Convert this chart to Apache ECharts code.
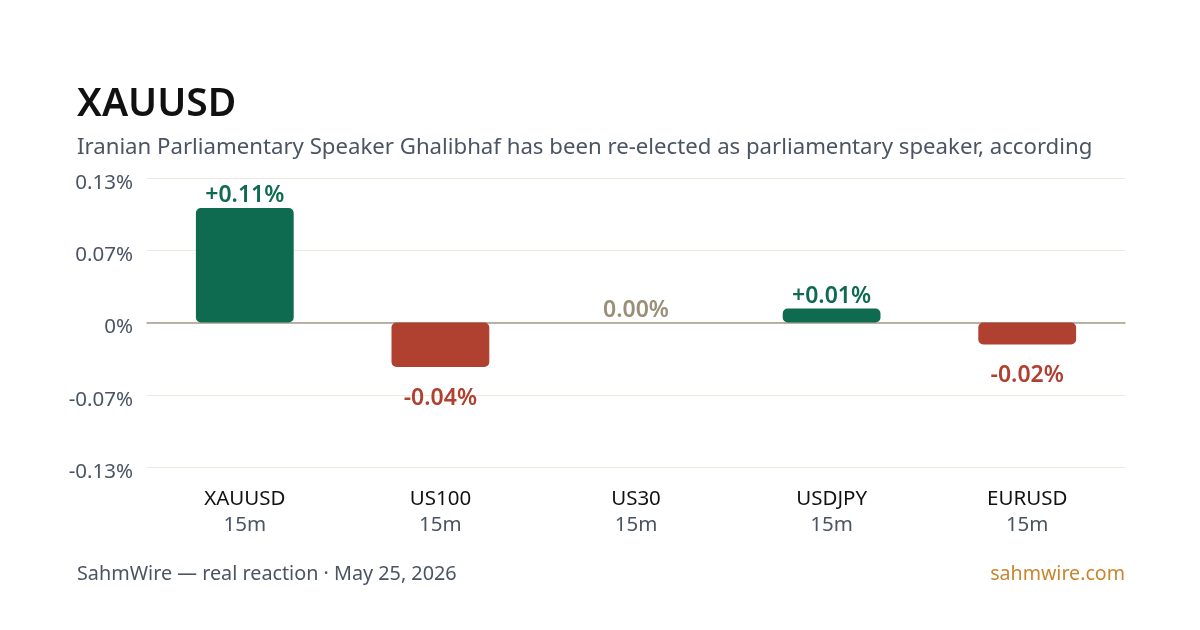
<!DOCTYPE html>
<html>
<head>
    <meta charset="utf-8">
    <title>XAUUSD reaction</title>
    <script src="https://cdn.jsdelivr.net/npm/echarts@6/dist/echarts.min.js"></script>
    <style>
        body { margin: 0; background: #fff; }
        #chart { width: 1200px; height: 630px; }
    </style>
</head>
<body>
<div id="chart"></div>
<script type="text/javascript">
    // data
    var symbols = ['XAUUSD', 'US100', 'US30', 'USDJPY', 'EURUSD'];
    var windows = ['15m', '15m', '15m', '15m', '15m'];
    var moves = [0.103, -0.040, 0.0, 0.0126, -0.0197];
    var moveLabels = ['+0.11%', '-0.04%', '0.00%', '+0.01%', '-0.02%'];

    var UP = '#0f6b4f', DOWN = '#b0402f', FLAT = '#9a8f78';
    var FONT = '"Noto Sans", "Open Sans", sans-serif';

    function colorOf(v) {
        return v > 0 ? UP : (v < 0 ? DOWN : FLAT);
    }

    var barData = moves.map(function (v, i) {
        return {
            value: v,
            itemStyle: {
                color: colorOf(v),
                borderRadius: 5
            },
            label: {
                position: v < 0 ? 'bottom' : 'top',
                distance: v < 0 ? 20 : 1,
                color: colorOf(v)
            }
        };
    });

    var myChart = echarts.init(document.getElementById('chart'));

    myChart.setOption({
        backgroundColor: '#fff',
        animation: false,
        textStyle: { fontFamily: FONT },
        title: [{
            text: 'XAUUSD',
            left: 72,
            top: 80,
            textStyle: { fontSize: 39, fontWeight: 600, color: '#111', fontFamily: FONT }
        }, {
            text: 'Iranian Parliamentary Speaker Ghalibhaf has been re-elected as parliamentary speaker, according',
            left: 72,
            top: 132,
            textStyle: { fontSize: 22.2, fontWeight: 'normal', color: '#4a5463', fontFamily: FONT }
        }, {
            text: 'SahmWire \u2014 real reaction \u00b7 May 25, 2026',
            left: 72,
            top: 559,
            textStyle: { fontSize: 19.8, fontWeight: 'normal', color: '#4a5463', fontFamily: FONT }
        }, {
            text: 'sahmwire.com',
            right: 70,
            top: 559,
            textStyle: { fontSize: 19.6, fontWeight: 'normal', color: '#c8862e', fontFamily: FONT }
        }],
        grid: {
            left: 147,
            right: 75,
            top: 178,
            bottom: 163,
            outerBoundsMode: 'none',
            containLabel: false
        },
        xAxis: {
            type: 'category',
            data: symbols,
            axisLine: { onZero: true, lineStyle: { color: '#a39c89', width: 1.5 } },
            axisTick: { show: false },
            axisLabel: {
                interval: 0,
                margin: 19,
                lineHeight: 26,
                formatter: function (v, i) {
                    return '{s|' + v + '}\n{w|' + windows[i] + '}';
                },
                rich: {
                    s: { fontSize: 20.5, color: '#111', fontFamily: FONT, lineHeight: 26 },
                    w: { fontSize: 20.5, color: '#4a5463', fontFamily: FONT, lineHeight: 26 }
                }
            }
        },
        yAxis: {
            type: 'value',
            min: -0.13,
            max: 0.13,
            interval: 0.065,
            axisLine: { show: false },
            axisTick: { show: false },
            splitLine: { lineStyle: { color: '#eeeadf', width: 1 } },
            axisLabel: {
                margin: 14,
                formatter: function (v) {
                    var t = Math.abs(v) < 1e-9 ? '0%' : v.toFixed(2) + '%';
                    return '{v|' + t + '}';
                },
                rich: {
                    v: {
                        fontSize: 20.5,
                        color: '#4a5463',
                        fontFamily: FONT,
                        padding: [10, 0, 0, 0]
                    }
                }
            }
        },
        series: [{
            type: 'bar',
            data: barData,
            barWidth: '50%',
            label: {
                show: true,
                fontSize: 23,
                fontWeight: 600,
                fontFamily: FONT,
                formatter: function (p) {
                    return moveLabels[p.dataIndex];
                }
            }
        }]
    });
</script>
</body>
</html>
